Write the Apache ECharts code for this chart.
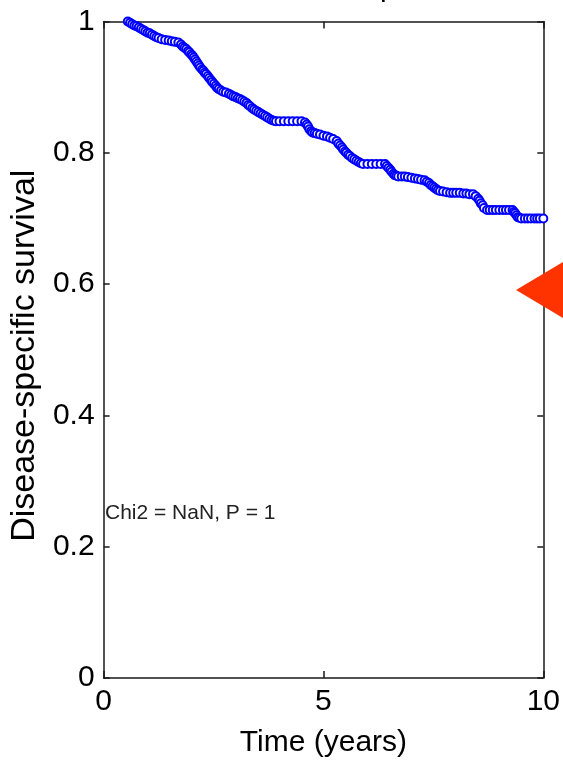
<!DOCTYPE html>
<html>
<head>
<meta charset="utf-8">
<script src="https://cdn.jsdelivr.net/npm/echarts@6/dist/echarts.min.js"></script>
<style>
  html, body { margin: 0; padding: 0; background: #fff; }
  #km { width: 563px; height: 763px; }
</style>
</head>
<body>
<div id="km"></div>
<script>
// Kaplan-Meier estimate: [time (years), survival]
var kmPoints = [
  [0.55, 1.000], [0.60, 0.998], [0.65, 0.996], [0.70, 0.994], [0.75, 0.993],
  [0.80, 0.991], [0.85, 0.989], [0.90, 0.987], [0.95, 0.985], [1.00, 0.983],
  [1.05, 0.982], [1.10, 0.980], [1.15, 0.978], [1.20, 0.976], [1.25, 0.975],
  [1.32, 0.973], [1.40, 0.972], [1.48, 0.971], [1.55, 0.970], [1.62, 0.969],
  [1.70, 0.968], [1.76, 0.965], [1.80, 0.962], [1.84, 0.960], [1.88, 0.958],
  [1.92, 0.955], [1.95, 0.953], [1.99, 0.950], [2.02, 0.948], [2.05, 0.945],
  [2.08, 0.942], [2.11, 0.939], [2.14, 0.936], [2.17, 0.933], [2.20, 0.930],
  [2.24, 0.927], [2.27, 0.925], [2.30, 0.922], [2.33, 0.920], [2.37, 0.917],
  [2.40, 0.914], [2.44, 0.911], [2.47, 0.908], [2.51, 0.905], [2.55, 0.902],
  [2.58, 0.899], [2.62, 0.897], [2.67, 0.895], [2.72, 0.893], [2.78, 0.892],
  [2.85, 0.890], [2.90, 0.888], [2.95, 0.886], [3.00, 0.885], [3.05, 0.883],
  [3.10, 0.882], [3.15, 0.880], [3.20, 0.878], [3.25, 0.876], [3.29, 0.873],
  [3.33, 0.871], [3.38, 0.868], [3.42, 0.866], [3.47, 0.864], [3.52, 0.862],
  [3.57, 0.860], [3.62, 0.858], [3.67, 0.856], [3.72, 0.854], [3.77, 0.852],
  [3.82, 0.850], [3.87, 0.849], [3.92, 0.848], [4.00, 0.848], [4.10, 0.848],
  [4.20, 0.848], [4.30, 0.848], [4.40, 0.848], [4.50, 0.848], [4.58, 0.846],
  [4.62, 0.843], [4.65, 0.840], [4.68, 0.836], [4.72, 0.833], [4.75, 0.831],
  [4.80, 0.830], [4.85, 0.829], [4.92, 0.828], [5.00, 0.826], [5.08, 0.825],
  [5.15, 0.823], [5.22, 0.821], [5.30, 0.818], [5.34, 0.814], [5.38, 0.811],
  [5.42, 0.808], [5.45, 0.805], [5.49, 0.802], [5.52, 0.800], [5.56, 0.797],
  [5.60, 0.795], [5.65, 0.792], [5.70, 0.790], [5.75, 0.788], [5.80, 0.786],
  [5.85, 0.784], [5.90, 0.783], [6.00, 0.783], [6.10, 0.783], [6.20, 0.783],
  [6.30, 0.783], [6.40, 0.783], [6.44, 0.780], [6.48, 0.777], [6.52, 0.774],
  [6.55, 0.771], [6.59, 0.768], [6.62, 0.766], [6.66, 0.765], [6.70, 0.764],
  [6.78, 0.764], [6.85, 0.764], [6.92, 0.763], [7.00, 0.762], [7.08, 0.761],
  [7.15, 0.760], [7.22, 0.759], [7.30, 0.758], [7.35, 0.756], [7.40, 0.754],
  [7.44, 0.751], [7.48, 0.749], [7.52, 0.747], [7.56, 0.745], [7.60, 0.743],
  [7.65, 0.742], [7.72, 0.741], [7.80, 0.740], [7.88, 0.739], [7.95, 0.739],
  [8.02, 0.739], [8.10, 0.739], [8.18, 0.738], [8.25, 0.738], [8.32, 0.737],
  [8.40, 0.737], [8.46, 0.734], [8.52, 0.730], [8.55, 0.727], [8.58, 0.723],
  [8.62, 0.720], [8.65, 0.716], [8.72, 0.713], [8.78, 0.713], [8.85, 0.713],
  [8.92, 0.713], [9.00, 0.713], [9.08, 0.713], [9.15, 0.713], [9.22, 0.713],
  [9.30, 0.713], [9.33, 0.710], [9.36, 0.708], [9.39, 0.705], [9.42, 0.702],
  [9.46, 0.701], [9.50, 0.700], [9.58, 0.700], [9.65, 0.700], [9.72, 0.700],
  [9.80, 0.700], [9.86, 0.700], [9.92, 0.700], [10.0, 0.700]
];
var xTicks = [0, 5, 10];
var yTicks = [0, 0.2, 0.4, 0.6, 0.8, 1];
var statText = "Chi2 = NaN, P = 1";

var chart = echarts.init(document.getElementById("km"));
var axisBlack = { color: "#1a1a1a", width: 1.5 };
var font = "Liberation Sans, Arial, sans-serif";

var option = {
  backgroundColor: "#fff",
  animation: false,
  grid: { left: 97, right: 15.5, top: 21.5, bottom: 84 },
  xAxis: [
    {
      type: "value",
      min: xTicks[0],
      max: xTicks[xTicks.length - 1],
      interval: 5,
      name: "Time (years)",
      nameLocation: "middle",
      nameGap: 50,
      nameTextStyle: { color: "#000", fontSize: 30, fontFamily: font },
      axisLine: { onZero: false, lineStyle: axisBlack },
      axisTick: { inside: true, length: 7, lineStyle: axisBlack },
      axisLabel: { color: "#000", fontSize: 30, fontFamily: font, margin: 9 },
      splitLine: { show: false }
    },
    {
      type: "value",
      position: "top",
      min: 0, max: 10, interval: 5,
      axisLine: { show: true, onZero: false, lineStyle: axisBlack },
      axisTick: { inside: true, length: 7, lineStyle: axisBlack },
      axisLabel: { show: false },
      splitLine: { show: false }
    }
  ],
  yAxis: [
    {
      type: "value",
      min: yTicks[0],
      max: yTicks[yTicks.length - 1],
      interval: 0.2,
      name: "Disease-specific survival",
      nameLocation: "middle",
      nameGap: 54,
      nameTextStyle: { color: "#000", fontSize: 34, fontFamily: font, padding: [0, 12, 0, 0] },
      axisLine: { show: true, onZero: false, lineStyle: axisBlack },
      axisTick: { show: true, inside: true, length: 6, lineStyle: axisBlack },
      axisLabel: { color: "#000", fontSize: 30, fontFamily: font, margin: 9 },
      splitLine: { show: false }
    },
    {
      type: "value",
      position: "right",
      min: 0, max: 1, interval: 0.2,
      axisLine: { show: true, onZero: false, lineStyle: axisBlack },
      axisTick: { show: true, inside: true, length: 6, lineStyle: axisBlack },
      axisLabel: { show: false },
      splitLine: { show: false }
    }
  ],
  series: [
    {
      type: "line",
      step: "end",
      data: kmPoints,
      showAllSymbol: true,
      symbol: "emptyCircle",
      symbolSize: 8,
      lineStyle: { color: "#0000ff", width: 3 },
      itemStyle: { color: "#0000ff", borderColor: "#0000ff", borderWidth: 2.5 },
      z: 3
    }
  ],
  graphic: [
    {
      type: "text",
      left: 105,
      top: 503,
      style: { text: statText, fill: "#222", font: "21px " + font }
    },
    {
      // descender of the cropped title
      type: "text",
      x: 380,
      y: -12,
      style: { text: "p", fill: "#000", font: "30px " + font, verticalAlign: "middle" }
    },
    {
      type: "polygon",
      shape: { points: [[516, 290], [575, 255], [575, 325]] },
      style: { fill: "#ff3300" },
      z: 10
    }
  ]
};

chart.setOption(option);
window.onresize = function () {
  chart.resize();
};
</script>
</body>
</html>
